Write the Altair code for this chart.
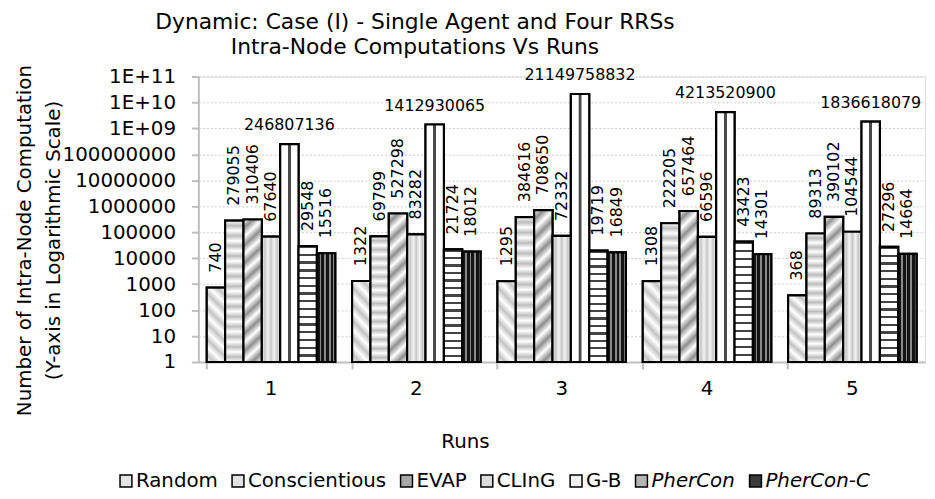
import altair as alt
import pandas as pd

runs = ["1", "2", "3", "4", "5"]
series = ["Random", "Conscientious", "EVAP", "CLInG", "G-B", "PherCon", "PherCon-C"]
random_v = [740, 1322, 1295, 1308, 368]
conscientious_v = [279055, 69799, 384616, 222205, 89313]
evap_v = [310406, 527298, 708650, 657464, 390102]
cling_v = [67640, 83282, 72332, 66596, 104544]
gb_v = [246807136, 1412930065, 21149758832, 4213520900, 1836618079]
phercon_v = [29548, 21724, 19719, 43423, 27296]
pherconc_v = [15516, 18012, 16849, 14301, 14664]
y_ticks = [1, 10, 100, 1000, 10000, 100000, 1000000, 10000000, 100000000,
           1000000000, 10000000000, 100000000000]
y_tick_labels = ["1", "10", "100", "1000", "10000", "100000", "1000000", "10000000",
                 "100000000", "1E+09", "1E+10", "1E+11"]
italic_series = ["PherCon", "PherCon-C"]

values = [random_v, conscientious_v, evap_v, cling_v, gb_v, phercon_v, pherconc_v]
rows = []
for s, vals in zip(series, values):
    for r, v in zip(runs, vals):
        rows.append({"run": r, "series": s, "value": v, "label": str(v)})
df = pd.DataFrame(rows)

FONT = "DejaVu Sans"
grays = ["#e4e4e4", "#e2e2e2", "#a8a8a8", "#dcdcdc", "#f0f0f0", "#b4b4b4", "#3a3a3a"]


def GS(o, c):
    return alt.GradientStop(offset=o, color=c)


def soft(bg, fg, n):
    st = []
    for i in range(n):
        st.append(GS(i / n, bg))
        st.append(GS((i + 0.5) / n, fg))
    st.append(GS(1, bg))
    return st


def hard(bg, fg, n, frac):
    st = []
    for i in range(n):
        a, b, c = i / n, (i + frac) / n, (i + 1) / n
        st += [GS(a, fg), GS(b, fg), GS(b, bg), GS(c, bg)]
    return st


patterns = {
    "Random": alt.LinearGradient(gradient="linear", stops=soft("#ffffff", "#c4c4c4", 6),
                                 x1=0, y1=1, x2=0.28, y2=-0.17),
    "Conscientious": alt.LinearGradient(gradient="linear", stops=soft("#ffffff", "#bdbdbd", 14),
                                        x1=0, y1=0, x2=0, y2=1),
    "EVAP": alt.LinearGradient(gradient="linear", stops=soft("#ffffff", "#8f8f8f", 9),
                               x1=0, y1=0, x2=0.13, y2=1.1),
    "CLInG": alt.LinearGradient(gradient="linear", stops=soft("#f4f4f4", "#c8c8c8", 3),
                                x1=0, y1=0, x2=1, y2=0),
    "G-B": alt.LinearGradient(gradient="linear",
                              stops=[GS(0, "#ffffff"), GS(0.41, "#ffffff"), GS(0.43, "#4a4a4a"),
                                     GS(0.57, "#4a4a4a"), GS(0.59, "#ffffff"), GS(1, "#ffffff")],
                              x1=0, y1=0, x2=1, y2=0),
    "PherCon": alt.LinearGradient(gradient="linear", stops=hard("#ffffff", "#444444", 15, 0.3),
                                  x1=0, y1=0, x2=0, y2=1),
    "PherCon-C": alt.LinearGradient(gradient="linear", stops=hard("#8a8a8a", "#141414", 4, 0.6),
                                    x1=0, y1=0, x2=1, y2=0),
}

label_expr = " : ".join(
    f"datum.value == {v} ? '{l}'" for v, l in zip(y_ticks, y_tick_labels)
) + " : ''"
italic_expr = "indexof(" + str(italic_series) + ", datum.label) >= 0 ? 'italic' : 'normal'"

x_enc = alt.X(
    "run:N", sort=runs,
    scale=alt.Scale(paddingInner=0.116, paddingOuter=0.058),
    axis=alt.Axis(
        title="Runs", labelAngle=0, labelFontSize=20, labelFont=FONT, labelColor="#000000",
        labelPadding=10, domainColor="#bfbfbf", domainWidth=2, tickColor="#bfbfbf",
        tickWidth=2, tickSize=7, bandPosition=0, grid=False,
        titleFontSize=20, titleFont=FONT, titleFontWeight="normal", titleColor="#000000",
        titleX=269, titleY=80, titleBaseline="middle", titleAlign="center",
    ),
)
xo_enc = alt.XOffset("series:N", sort=series,
                     scale=alt.Scale(domain=series, paddingInner=0, paddingOuter=0))
y_enc = alt.Y(
    "value:Q",
    scale=alt.Scale(type="log", domain=[1, 1e11], nice=False),
    axis=alt.Axis(
        values=y_ticks, labelExpr=label_expr, labelFontSize=20, labelFont=FONT,
        labelColor="#000000", labelPadding=16, tickSize=7, tickColor="#bfbfbf",
        tickWidth=2, domainColor="#bfbfbf", domainWidth=2,
        grid=True, gridColor="#cccccc", gridDash=[2, 2], gridWidth=1,
        title=["Number of Intra-Node Computation", "(Y-axis in Logarithmic Scale)"],
        titleFontSize=20, titleFont=FONT, titleFontWeight="normal", titleColor="#000000",
        titlePadding=-1, titleLineHeight=29, titleY=165,
    ),
)
y2_enc = alt.Y2Datum(1)

base = alt.Chart(df)

bars = base.mark_bar(stroke="#000000", strokeWidth=2.2).encode(
    x=x_enc, xOffset=xo_enc, y=y_enc, y2=y2_enc,
    fill=alt.Fill(
        "series:N", sort=series,
        scale=alt.Scale(domain=series, range=grays),
        legend=alt.Legend(
            title=None, orient="none", legendX=-83, legendY=398, direction="horizontal",
            columns=7, gridAlign="none", symbolType="square", symbolSize=144,
            symbolStrokeColor="#000000", symbolStrokeWidth=1.5, labelFontSize=20,
            labelFont=FONT, labelColor="#000000", labelOffset=0, columnPadding=10,
            labelFontStyle=alt.ExprRef(expr=italic_expr),
        ),
    ),
)

layers = [bars]
for s in series:
    layers.append(
        base.transform_filter(alt.datum.series == s)
        .mark_bar(stroke="#000000", strokeWidth=2.2, fill=patterns[s])
        .encode(x=x_enc, xOffset=xo_enc, y=y_enc, y2=y2_enc)
    )

vlabels = base.transform_filter(alt.datum.series != "G-B").mark_text(
    angle=270, align="left", baseline="middle", dx=15, fontSize=16, font=FONT, color="#000000"
).encode(x=x_enc, xOffset=xo_enc, y=y_enc, text="label:N")

hlabels = base.transform_filter(alt.datum.series == "G-B").mark_text(
    align="center", baseline="alphabetic", dy=-14, fontSize=16, font=FONT, color="#000000"
).encode(x=x_enc, xOffset=xo_enc, y=y_enc, text="label:N")

layers += [vlabels, hlabels]

chart = alt.layer(*layers).properties(
    width=733, height=288,
    title=alt.TitleParams(
        ["Dynamic: Case (I) - Single Agent and Four RRSs", "Intra-Node Computations Vs Runs"],
        fontSize=22, font=FONT, fontWeight="normal", color="#000000", anchor="middle",
        dx=-148, lineHeight=26, offset=5,
    ),
    autosize=alt.AutoSizeParams(type="none"),
    padding={"left": 192, "top": 67, "right": 2, "bottom": 128},
).configure_view(stroke=None).configure(font=FONT)

chart.save("out.html", embed_options={"renderer": "svg", "actions": False})
